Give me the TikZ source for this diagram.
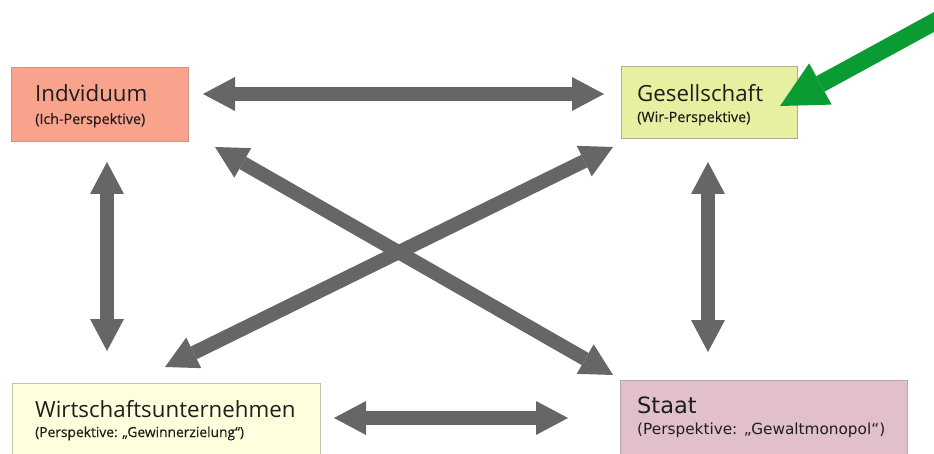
\documentclass[tikz,border=0pt]{standalone}
\usepackage{fontspec}
\setmainfont{Open Sans}
\newfontfamily\subfont{Open Sans}[FakeBold=0.4]
\newfontfamily\dejavu{DejaVu Sans}
\usetikzlibrary{arrows.meta}
\definecolor{arrgray}{RGB}{102,102,102}
\definecolor{txt}{RGB}{30,30,30}
\definecolor{indfill}{RGB}{250,163,140}
\definecolor{inddraw}{RGB}{205,150,130}
\definecolor{gesfill}{RGB}{231,240,160}
\definecolor{gesdraw}{RGB}{170,175,150}
\definecolor{wirfill}{RGB}{255,255,222}
\definecolor{wirdraw}{RGB}{195,195,170}
\definecolor{stafill}{RGB}{226,192,202}
\definecolor{stadraw}{RGB}{185,165,175}
\definecolor{grn}{RGB}{10,155,50}
\begin{document}
\begin{tikzpicture}[x=1pt,y=-1pt,
  box/.style={line width=1pt, anchor=north west, inner sep=0pt},
  dbl/.style={line width=14pt, draw=arrgray,
    {Triangle[length=32pt,width=34pt,line width=0pt]}-{Triangle[length=32pt,width=34pt,line width=0pt]}},
  title/.style={anchor=base west, font=\fontsize{22.3}{26}\selectfont, text=txt, inner sep=0pt},
  subt/.style={anchor=base west, font=\subfont\fontsize{14.3}{17}\selectfont, text=txt, inner sep=0pt}]
\useasboundingbox (0,0) rectangle (934,454);

% boxes
\node[box, draw=inddraw, fill=indfill, minimum width=177pt, minimum height=74pt] (ind) at (11,67) {};
\node[box, draw=gesdraw, fill=gesfill, minimum width=176pt, minimum height=72pt] (ges) at (621,66) {};
\node[box, draw=wirdraw, fill=wirfill, minimum width=308pt, minimum height=80pt] (wir) at (12,383) {};
\node[box, draw=stadraw, fill=stafill, minimum width=287pt, minimum height=80pt] (sta) at (620,380) {};

% texts
\node[title] (indt) at (35,102) {Indviduum};
\node[subt] (inds) at (35,124) {(Ich-Perspektive)};
\node[title] (gest) at (637,102) {Gesellschaft};
\node[subt] (gess) at (637,122) {(Wir-Perspektive)};
\node[title] (wirt) at (35,417) {Wirtschaftsunternehmen};
\node[subt, font=\subfont\fontsize{13.8}{17}\selectfont] (wirs) at (35,437) {(Perspektive: „Gewinnerzielung“)};
\node[title, font=\dejavu\fontsize{22.5}{26}\selectfont] (stat) at (637,413) {Staat};
\node[subt, font=\dejavu\fontsize{15.3}{18}\selectfont] (stas) at (637,434) {(Perspektive: „Gewaltmonopol“)};

% arrow tips
\coordinate (a1) at (203,94);  \coordinate (a2) at (604,94);
\coordinate (b1) at (334,418); \coordinate (b2) at (568,418);
\coordinate (c1) at (107,162); \coordinate (c2) at (107,351);
\coordinate (d1) at (708,162); \coordinate (d2) at (708,352);
\coordinate (e1) at (215,147); \coordinate (e2) at (613,375);
\coordinate (f1) at (613,147); \coordinate (f2) at (165,367);
\coordinate (g1) at (945,16);  \coordinate (g2) at (780,106);

\draw[dbl] (a1) -- (a2);
\draw[dbl] (b1) -- (b2);
\draw[dbl] (c1) -- (c2);
\draw[dbl] (d1) -- (d2);
\draw[dbl] (e1) -- (e2);
\draw[dbl] (f1) -- (f2);
\draw[line width=17.5pt, draw=grn, -{Triangle[length=46pt,width=47pt,line width=0pt]}] (g1) -- (g2);
\end{tikzpicture}
\end{document}
